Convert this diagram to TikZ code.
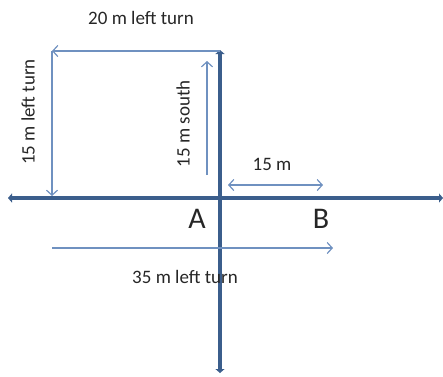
\documentclass[tikz,border=0pt]{standalone}
\usepackage{fontspec}
\setmainfont{Carlito}
\usetikzlibrary{arrows.meta}
\definecolor{axisblue}{HTML}{3B5E8C}
\definecolor{pathblue}{HTML}{6F91C0}

\begin{document}
\begin{tikzpicture}[x=1pt,y=-1pt,
  axis/.style={draw=axisblue,line width=4pt,{Triangle[length=4pt,width=9pt]}-{Triangle[length=4pt,width=9pt]}},
  walk/.style={draw=pathblue,line width=1.2pt,-{Straight Barb[length=5pt,width=11pt]}},
  lbl/.style={font=\fontsize{19}{22}\selectfont,text=black!85,inner sep=0pt},
  pt/.style={font=\fontsize{30}{34}\selectfont,text=black!85,inner sep=0pt}]
\useasboundingbox (0,0) rectangle (443,376);
% axes
\coordinate (w) at (8,198);
\coordinate (e) at (443,198);
\coordinate (n) at (220,50);
\coordinate (s) at (220,373);
\draw[axis] (w) -- (e);
\draw[axis] (s) -- (n);
% walked path
\coordinate (s0) at (207,175);
\coordinate (s1) at (207,61);
\coordinate (c1) at (220,51);
\coordinate (c2) at (52,51);
\coordinate (c3) at (52,196);
\coordinate (a1) at (52,248);
\coordinate (a2) at (333,248);
\coordinate (d1) at (228,185);
\coordinate (d2) at (323,185);
\draw[walk] (s0) -- (s1);
\draw[walk] (c1) -- (c2);
\draw[walk] (c2) -- (c3);
\draw[walk] (a1) -- (a2);
\draw[walk,{Straight Barb[length=5pt,width=11pt]}-{Straight Barb[length=5pt,width=11pt]}] (d1) -- (d2);
% labels
\node[lbl] (top) at (141,18) {20 m left turn};
\node[lbl,rotate=90] (left) at (28,112) {15 m left turn};
\node[lbl,rotate=90] (south) at (183,124) {15 m south};
\node[lbl] (ab) at (272,164) {15 m};
\node[lbl] (total) at (185,277) {35 m left turn};
\node[pt] (A) at (197,219) {A};
\node[pt] (B) at (321,219) {B};
\end{tikzpicture}
\end{document}
